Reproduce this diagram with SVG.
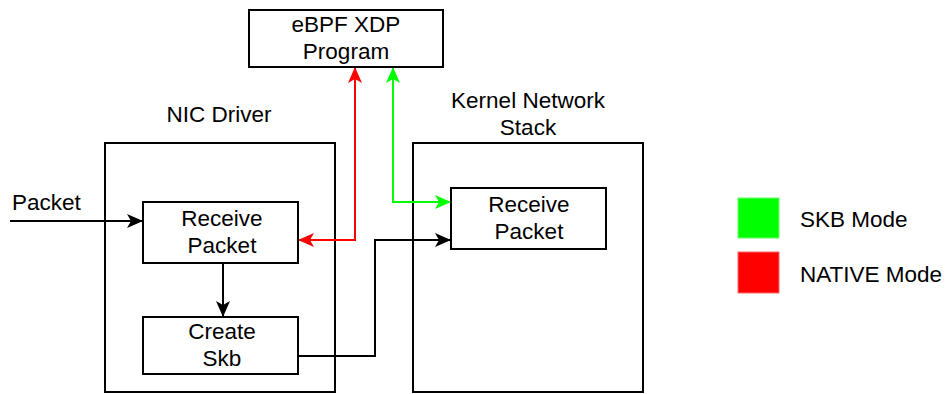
<svg xmlns="http://www.w3.org/2000/svg" width="947" height="394" viewBox="0 0 947 394">
  <style>
    .box { fill: #ffffff; stroke: #000000; stroke-width: 2; }
    .frame { fill: none; stroke: #000000; stroke-width: 2; }
    .lbl { font-family: "Liberation Sans", Arial, sans-serif; font-size: 22.5px; fill: #000000; }
    .mid { text-anchor: middle; }
    .edge { fill: none; stroke-width: 2; }
  </style>
  <defs>
    <marker id="arrowBlack" markerUnits="userSpaceOnUse" markerWidth="18" markerHeight="16" refX="16" refY="7" orient="auto-start-reverse">
      <path d="M0,0 L16,7 L0,14 L4,7 z" fill="#000000"/>
    </marker>
    <marker id="arrowRed" markerUnits="userSpaceOnUse" markerWidth="18" markerHeight="16" refX="16" refY="7" orient="auto-start-reverse">
      <path d="M0,0 L16,7 L0,14 L4,7 z" fill="#ff0000"/>
    </marker>
    <marker id="arrowGreen" markerUnits="userSpaceOnUse" markerWidth="18" markerHeight="16" refX="16" refY="7" orient="auto-start-reverse">
      <path d="M0,0 L16,7 L0,14 L4,7 z" fill="#00ff00"/>
    </marker>
  </defs>

  <rect width="947" height="394" fill="#ffffff"/>

  <!-- containers -->
  <g id="nic-driver">
    <rect class="frame" x="105" y="143" width="230" height="249"/>
    <text class="lbl mid" x="219" y="122">NIC Driver</text>
  </g>
  <g id="kernel-stack">
    <rect class="frame" x="413" y="143" width="230" height="249"/>
    <text class="lbl mid" x="528" y="108">Kernel Network</text>
    <text class="lbl mid" x="528" y="135">Stack</text>
  </g>

  <!-- connectors -->
  <g id="connectors">
    <line class="edge" x1="10" y1="221" x2="143" y2="221" stroke="#000000" marker-end="url(#arrowBlack)"/>
    <line class="edge" x1="223" y1="263" x2="223" y2="317" stroke="#000000" marker-end="url(#arrowBlack)"/>
    <polyline class="edge" points="298,356 375,356 375,240 451,240" stroke="#000000" marker-end="url(#arrowBlack)"/>
    <polyline class="edge" points="355,67 355,240 298,240" stroke="#ff0000" marker-start="url(#arrowRed)" marker-end="url(#arrowRed)"/>
    <polyline class="edge" points="393,67 393,202 451,202" stroke="#00ff00" marker-start="url(#arrowGreen)" marker-end="url(#arrowGreen)"/>
  </g>

  <text class="lbl" x="12" y="210">Packet</text>

  <g id="ebpf-xdp">
    <rect class="box" x="249" y="10" width="194" height="57"/>
    <text class="lbl mid" x="346" y="32">eBPF XDP</text>
    <text class="lbl mid" x="346" y="59">Program</text>
  </g>

  <g id="nic-receive">
    <rect class="box" x="143" y="202" width="155" height="61"/>
    <text class="lbl mid" x="222" y="226">Receive</text>
    <text class="lbl mid" x="222" y="253">Packet</text>
  </g>

  <g id="create-skb">
    <rect class="box" x="143" y="317" width="155" height="57"/>
    <text class="lbl mid" x="222" y="339">Create</text>
    <text class="lbl mid" x="222" y="366">Skb</text>
  </g>

  <g id="kernel-receive">
    <rect class="box" x="451" y="188" width="155" height="61"/>
    <text class="lbl mid" x="529" y="212">Receive</text>
    <text class="lbl mid" x="529" y="239">Packet</text>
  </g>

  <!-- legend -->
  <g id="legend-skb">
    <rect x="738" y="198" width="41" height="40" fill="#00ff00" stroke="#66ff66" stroke-width="1"/>
    <text class="lbl" x="800" y="227">SKB Mode</text>
  </g>
  <g id="legend-native">
    <rect x="738" y="252" width="41" height="41" fill="#ff0000" stroke="#ff6666" stroke-width="1"/>
    <text class="lbl" x="800" y="282">NATIVE Mode</text>
  </g>
</svg>
